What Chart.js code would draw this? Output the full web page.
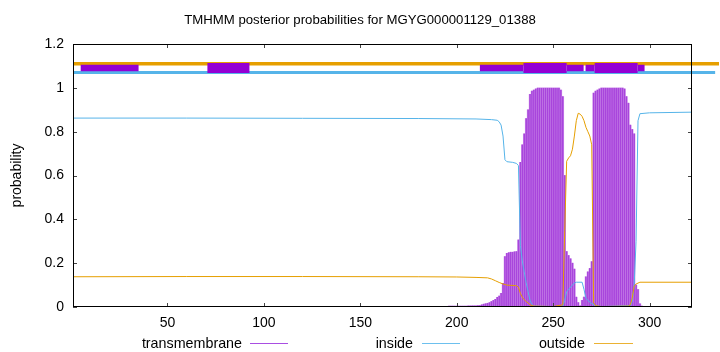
<!DOCTYPE html>
<html><head><meta charset="utf-8">
<script src="https://cdn.jsdelivr.net/npm/chart.js@4"></script>
<style>
html,body{margin:0;padding:0;background:#fff;}
#wrap{position:relative;width:720px;height:352px;overflow:hidden;}
canvas{position:absolute;left:0;top:0;}
.tt{position:absolute;left:0;width:720px;top:12px;text-align:center;font:13.2px "Liberation Sans",Arial,sans-serif;color:#000;line-height:16px;white-space:nowrap;}
.lg{position:absolute;top:335px;font:14.3px "Liberation Sans",Arial,sans-serif;color:#000;line-height:16px;white-space:nowrap;}
.ln{position:absolute;top:343px;height:1px;}
</style></head><body>
<div id="wrap"><canvas id="c" width="720" height="352"></canvas>
<div class="tt" id="title"></div>
<div class="lg" style="right:478px">transmembrane</div><div class="ln" style="left:250px;width:38px;background:#a94ee2"></div>
<div class="lg" style="right:307px">inside</div><div class="ln" style="left:422px;width:38px;background:#6dc0ee"></div>
<div class="lg" style="right:135px">outside</div><div class="ln" style="left:594px;width:39px;background:#ebb233"></div>
</div>
<script>
// ---- data ----
const titleText = 'TMHMM posterior probabilities for MGYG000001129_01388';
const seqLength = 322;
const xTicks = [50, 100, 150, 200, 250, 300];
const yTicks = [0, 0.2, 0.4, 0.6, 0.8, 1, 1.2];

// transmembrane posterior probability, residues 1..322
const tmProb = [
 0.003,0.003,0.003,0.003,0.003,0.003,0.003,0.003,0.003,0.003,
 0.003,0.003,0.003,0.003,0.003,0.003,0.003,0.003,0.003,0.003,
 0,0,0,0,0,0,0,0,0,0, 0,0,0,0,0,0,0,0,0,0,
 0,0,0,0,0,0,0,0,0,0, 0,0,0,0,0,0,0,0,0,0,
 0,0,0,0,0,0,0,0,0,0, 0,0,0,0,0,0,0,0,0,0,
 0,0,0,0,0,0,0,0,0,0, 0,0,0,0,0,0,0,0,0,0,
 0,0,0,0,0,0,0,0,0,0, 0,0,0,0,0,0,0,0,0,0,
 0,0,0,0,0,0,0,0,0,0, 0,0,0,0,0,0,0,0,0,0,
 0,0,0,0,0,0,0,0,0,0, 0,0,0,0,0,0,0,0,0,0,
 0,0,0,0,0,
 0.002,0.002,0.002,0.002,0.002,0.002,0.002,0.002,0.002,0.002,0.002,0.002,0.002,0.002,0.002,
 0.003,0.003,0.003,0.003,0.003,0.003,0.003,0.003,0.003,0.003,0.003,0.003,0.003,0.003,0.003,
 0.004,0.004,0.004,0.004,0.004,0.004,0.004,0.004,0.004,0.004,
 0.005,0.005,0.005,0.005,
 0.005,0.006,0.007,0.010,0.013,0.015,0.017,0.020,0.025,0.030,0.035,0.044,0.050,0.062,0.108,0.230,0.245,0.248,0.250,0.250,0.252,0.253,
 0.306,0.660,0.740,0.790,0.860,0.900,0.970,0.985,0.990,0.995,
 0.999,0.999,0.999,0.999,0.999,0.999,0.999,0.999,0.999,0.999,0.999,0.999,
 0.990,0.960,0.600,0.253,0.235,0.220,0.200,0.173,
 0.045,0.020,0.005,0.030,0.045,0.138,0.160,0.176,0.207,
 0.976,0.985,0.990,0.995,
 0.999,0.999,0.999,0.999,0.999,0.999,0.999,0.999,0.999,0.999,0.999,0.999,
 0.995,0.960,0.930,0.830,0.810,0.790,0.100,0.080,0.015,0.004,
 0,0,0,0,0,0,0,0,0,0, 0,0,0,0,0,0,0,0,0,0, 0,0,0,0,0,0
];

const insideX = [1,60,120,180,210,218,221,222,223,224,225,226,229,231,232,233,234,235,236,237,238,239,240,250,255,256,257,258,259,260,261,262,265,266,267,268,270,272,275,290,291,292,293,294,295,300,322];
const insideY = [0.862,0.862,0.861,0.860,0.858,0.855,0.852,0.845,0.830,0.780,0.672,0.663,0.660,0.655,0.645,0.280,0.210,0.160,0.110,0.070,0.030,0.012,0.004,0.002,0.003,0.030,0.070,0.080,0.090,0.100,0.110,0.113,0.113,0.080,0.040,0.030,0.015,0.006,0.002,0.006,0.025,0.100,0.300,0.850,0.882,0.886,0.889];

const outsideX = [1,60,120,180,200,210,216,218,220,222,224,226,231,232,233,234,235,236,237,238,240,250,255,256,257,258,259,260,261,262,263,264,265,266,267,268,269,270,271,272,275,289,290,291,292,293,295,322];
const outsideY = [0.138,0.139,0.139,0.138,0.137,0.135,0.133,0.128,0.120,0.112,0.105,0.100,0.097,0.090,0.062,0.045,0.033,0.025,0.018,0.010,0.004,0.002,0.010,0.350,0.665,0.680,0.690,0.720,0.780,0.850,0.884,0.880,0.870,0.850,0.820,0.800,0.780,0.740,0.020,0.006,0.002,0.004,0.010,0.040,0.095,0.105,0.113,0.113];

// predicted topology strip above the plot
const topOutsideLevel = 1.11, topInsideLevel = 1.07, topTMLevel = 1.09;
const topOutsideSpan = [1, 336];
const topInsideSpan = [1, 334];
const tmSegmentsThin = [[5,35],[212,234.6],[257,265.8],[266.8,271.5],[293.8,297.4]];
const tmSegmentsThick = [[70.7,92.5],[234.6,257],[271.5,293.8]];

// ---- build ----
document.getElementById('title').textContent = titleText;
const residues = tmProb.map((v,i)=>i+1);
const tmPoints = tmProb.map((v,i)=>({x:residues[i], y:v}));
const zip = (xs,ys)=>xs.map((x,i)=>({x, y:ys[i]}));
const segs = (list, level)=>{
  const out=[];
  list.forEach(([a,b])=>{out.push({x:a,y:level});out.push({x:b,y:level});out.push({x:b,y:null});});
  return out;
};
const FONT = '"Liberation Sans", Arial, sans-serif';

const framePlugin = {
  id:'frame',
  afterDatasetsDraw(chart){
    const {ctx, chartArea:a, scales:{x,y}} = chart;
    ctx.save();
    ctx.lineWidth = 1;
    ctx.strokeStyle = '#444';
    ctx.beginPath();
    xTicks.forEach(v=>{const p=Math.round(x.getPixelForValue(v))+0.5;
      ctx.moveTo(p,a.bottom); ctx.lineTo(p,a.bottom-4);
      ctx.moveTo(p,a.top); ctx.lineTo(p,a.top+4);});
    yTicks.forEach(v=>{const p=Math.round(y.getPixelForValue(v))+0.5;
      ctx.moveTo(a.left,p); ctx.lineTo(a.left+4,p);
      ctx.moveTo(a.right,p); ctx.lineTo(a.right-4,p);});
    ctx.stroke();
    ctx.strokeStyle = '#000';
    ctx.strokeRect(Math.round(a.left)+0.5, Math.round(a.top)+0.5, Math.round(a.right-a.left)-1, Math.round(a.bottom-a.top)-1);
    ctx.restore();
  }
};

new Chart(document.getElementById('c'), {
  type:'bar',
  data:{datasets:[
    {type:'line', data:segs(tmSegmentsThick, topTMLevel), borderColor:'#9400d3', borderWidth:10, borderCapStyle:'butt', pointRadius:0, spanGaps:false, order:0, clip:false},
    {type:'line', data:segs(tmSegmentsThin, topTMLevel), borderColor:'#9400d3', borderWidth:6.5, borderCapStyle:'butt', pointRadius:0, spanGaps:false, order:0, clip:false},
    {type:'line', data:zip(topOutsideSpan,[topOutsideLevel,topOutsideLevel]), borderColor:'#e69f00', borderWidth:3.5, borderCapStyle:'butt', pointRadius:0, order:1, clip:false},
    {type:'line', data:zip(topInsideSpan,[topInsideLevel,topInsideLevel]), borderColor:'#56b4e9', borderWidth:3, borderCapStyle:'butt', pointRadius:0, order:1, clip:false},
    {type:'line', label:'outside', data:zip(outsideX,outsideY), borderColor:'#e69f00', borderWidth:1, pointRadius:0, tension:0, order:2},
    {type:'line', label:'inside', data:zip(insideX,insideY), borderColor:'#56b4e9', borderWidth:1, pointRadius:0, tension:0, order:2},
    {type:'bar', label:'transmembrane', data:tmPoints, backgroundColor:'#a845dc', barThickness:1, grouped:false, order:3},
    {type:'bar', label:'transmembrane fill', data:tmPoints, backgroundColor:'#ddb0f0', barPercentage:1, categoryPercentage:1, grouped:false, order:4}
  ]},
  options:{
    responsive:false, animation:false, devicePixelRatio:1, events:[],
    layout:{padding:{left:0,right:28,top:44,bottom:0}},
    plugins:{ legend:{display:false}, tooltip:{enabled:false}, title:{display:false} },
    scales:{
      x:{type:'linear', min:1, max:seqLength, offset:false,
        afterBuildTicks:s=>{s.ticks = xTicks.map(v=>({value:v}));},
        afterFit:s=>{s.height=45;},
        grid:{display:false, drawTicks:false}, border:{display:false},
        ticks:{color:'#000', font:{family:FONT,size:14}, padding:8, maxRotation:0, autoSkip:false, callback:v=>String(v)}},
      y:{type:'linear', min:0, max:1.2,
        afterBuildTicks:s=>{s.ticks = yTicks.map(v=>({value:v}));},
        afterFit:s=>{s.width=73;},
        grid:{display:false, drawTicks:false}, border:{display:false},
        title:{display:true, text:'probability', color:'#000', font:{family:FONT,size:14}, padding:{top:8.6,bottom:0}},
        ticks:{color:'#000', font:{family:FONT,size:14}, padding:9, autoSkip:false, callback:v=>String(Math.round(v*10)/10)}}
    }
  },
  plugins:[framePlugin]
});
</script>
</body></html>
